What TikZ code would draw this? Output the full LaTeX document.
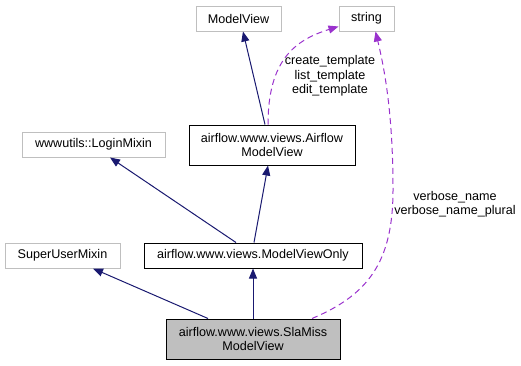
\documentclass[tikz,border=0pt]{standalone}
\usepackage{fontspec}
\setmainfont{Liberation Sans}
\usetikzlibrary{arrows.meta}
\definecolor{edgeblue}{HTML}{191970}
\definecolor{edgepurple}{HTML}{9A32CD}
\definecolor{boxgray}{HTML}{BFBFBF}
\begin{document}
\begin{tikzpicture}[x=1pt,y=-1pt,
  font=\fontsize{12.6}{14.5}\selectfont,
  cls/.style={draw, line width=1pt, inner sep=0pt, align=center},
  extcls/.style={cls, draw=boxgray},
  inherit/.style={draw=edgeblue, line width=1pt, -{Triangle[length=10pt,width=8pt]}},
  usage/.style={draw=edgepurple, line width=1pt, dash pattern=on 6pt off 4pt, -{Triangle[length=10pt,width=8pt]}},
  lbl/.style={align=center, inner sep=0pt}]
\useasboundingbox (0,0) rectangle (521,365);

% class boxes
\node[extcls, minimum width=85pt, minimum height=25pt] (mv) at (238.5,18.5) {ModelView};
\node[extcls, minimum width=55pt, minimum height=25pt] (str) at (366.5,18.5) {string};
\node[cls, minimum width=166pt, minimum height=40pt] (air) at (272,145) {airflow.www.views.Airflow\\ModelView};
\node[extcls, minimum width=143pt, minimum height=25pt] (login) at (93.5,144.5) {wwwutils::LoginMixin};
\node[extcls, minimum width=115pt, minimum height=25pt] (su) at (62.5,255.5) {SuperUserMixin};
\node[cls, minimum width=218pt, minimum height=25pt] (mvo) at (253,255.5) {airflow.www.views.ModelViewOnly};
\node[cls, fill=boxgray, minimum width=174pt, minimum height=40pt] (sla) at (253,339) {airflow.www.views.SlaMiss\\ModelView};

% inheritance
\draw[inherit] ([xshift=-7pt]air.north) -- ([xshift=4.5pt]mv.south);
\draw[inherit] ([xshift=1pt]mvo.north) -- ([xshift=-4pt]air.south);
\draw[inherit] ([xshift=-17pt]mvo.north) -- ([xshift=16.5pt]login.south);
\draw[inherit] ([xshift=-45pt]sla.north) -- ([xshift=30.5pt]su.south);
\draw[inherit] (sla.north) -- (mvo.south);

% member usage
\draw[usage] ([xshift=-4pt]air.north) .. controls (268,60) and (295,40) .. ([yshift=-8pt]str.west);
\draw[usage] ([xshift=59pt]sla.north) .. controls (368,295) and (393,262) .. (393,190)
  .. controls (393,120) and (386,75) .. ([xshift=9pt]str.south);

% usage labels
\node[lbl] (lblair) at (330,76) {create\_template\\list\_template\\edit\_template};
\node[lbl] (lblsla) at (455,204) {verbose\_name\\verbose\_name\_plural};
\end{tikzpicture}
\end{document}
